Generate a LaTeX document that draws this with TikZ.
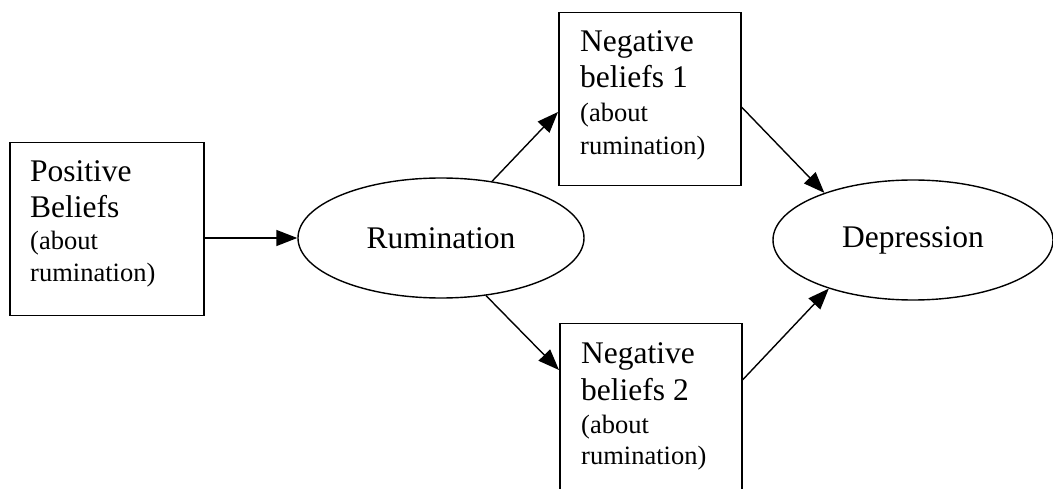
\documentclass[tikz,border=0pt]{standalone}
\usepackage{fontspec}
\setmainfont{Liberation Serif}
\usetikzlibrary{arrows.meta,shapes.geometric}
\begin{document}
\begin{tikzpicture}[x=1pt,y=-1pt,
  boxst/.style={draw,line width=1.5pt,rectangle,inner sep=0pt,anchor=north west},
  ellst/.style={draw,line width=1.4pt,ellipse,inner sep=0pt,font=\fontsize{31.5}{36}\selectfont},
  big/.style={anchor=base west,inner sep=0pt,font=\fontsize{31.5}{36}\selectfont},
  small/.style={anchor=base west,inner sep=0pt,font=\fontsize{26.5}{32}\selectfont},
  arr/.style={line width=1.4pt,-{Triangle[length=21pt,width=16pt]}}]
\useasboundingbox (0,0) rectangle (1053,489);
\clip (0,0) rectangle (1053,489);
% boxes
\node[boxst,minimum width=194pt,minimum height=173pt] (pos) at (9,142) {};
\node[boxst,minimum width=182pt,minimum height=173pt] (neg1) at (558,12) {};
\node[boxst,minimum width=182pt,minimum height=173pt] (neg2) at (559,323) {};
% ellipses
\node[ellst,minimum width=286pt,minimum height=120pt] (rum) at (441,238) {Rumination};
\node[ellst,minimum width=280pt,minimum height=120pt] (dep) at (913,240) {Depression};
% box texts
\node[big] (pos1) at (30,182) {Positive};
\node[big] (pos2) at (30,218) {Beliefs};
\node[small] (pos3) at (30,250) {(about};
\node[small] (pos4) at (30,282) {rumination)};
\node[big] (na1) at (580,52) {Negative};
\node[big] (na2) at (580,88) {beliefs 1};
\node[small] (na3) at (580,122) {(about};
\node[small] (na4) at (580,155) {rumination)};
\node[big] (nb1) at (581,363) {Negative};
\node[big] (nb2) at (581,400) {beliefs 2};
\node[small] (nb3) at (581,433) {(about};
\node[small] (nb4) at (581,464) {rumination)};
% connectors
\draw[arr] (rum.west -| pos.east) -- (rum.west);
\draw[arr] (rum.48) -- ([yshift=-100pt]neg1.north west);
\draw[arr] (rum.-52) -- ([yshift=-47pt]neg2.north west);
\draw[arr] ([yshift=-95pt]neg1.north east) -- (dep.152);
\draw[arr] ([yshift=-57pt]neg2.north east) -- (dep.210);
\end{tikzpicture}
\end{document}
